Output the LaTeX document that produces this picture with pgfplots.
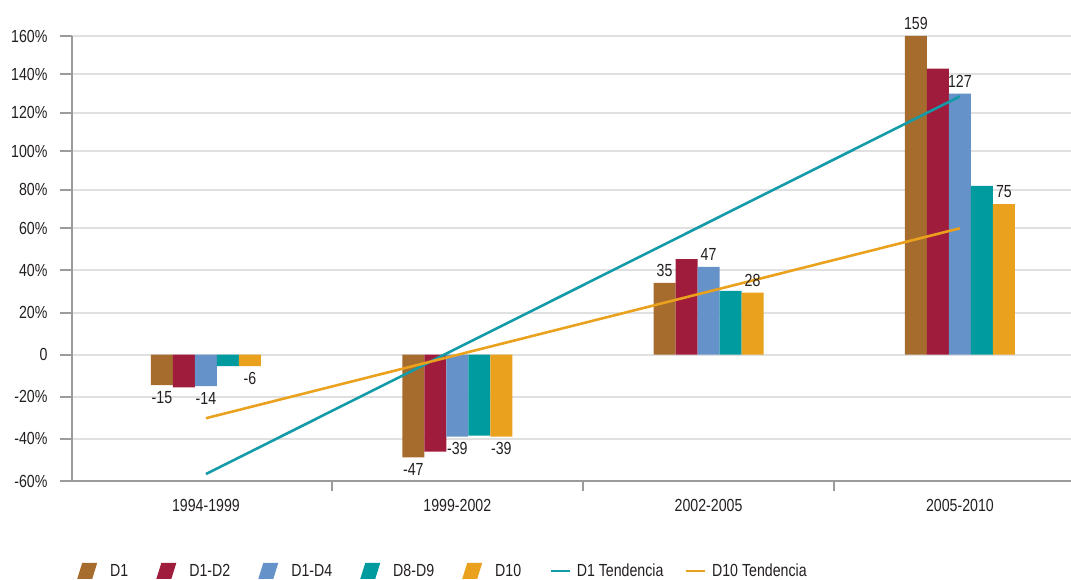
\documentclass[border=0pt]{standalone}
\usepackage{fontspec}
\setmainfont{Liberation Sans}[FakeStretch=0.81]
\usepackage{pgfplots}
\pgfplotsset{compat=1.18}
\definecolor{cD1}{RGB}{166,108,46}
\definecolor{cD12}{RGB}{160,28,60}
\definecolor{cD14}{RGB}{101,146,200}
\definecolor{cD89}{RGB}{0,155,159}
\definecolor{cD10}{RGB}{234,162,30}
\definecolor{cT1}{RGB}{20,155,168}
\definecolor{gridc}{RGB}{224,224,224}
\definecolor{axc}{RGB}{155,155,155}
\definecolor{txt}{RGB}{35,31,32}
\pgfplotsset{
  barleg/.style={legend image code/.code={%
    \fill[##1,draw=none] (0bp,-8bp) -- (15bp,-8bp) -- (20bp,8bp) -- (5bp,8bp) -- cycle;
    \path (27bp,0bp);}},
  lineleg/.style={legend image code/.code={%
    \draw[##1,line width=2.6bp] (0bp,0bp) -- (19bp,0bp);}},
  lab/.style={nodes near coords={\pgfmathprintnumber[assume math mode=true]{\pgfplotspointmeta}},
    point meta=explicit},
}
\begin{document}
\begin{tikzpicture}[x=1bp,y=1bp,font=\fontsize{17.5bp}{21bp}\selectfont]
\useasboundingbox (-72,-99) rectangle (999,481);
\begin{axis}[
  at={(0,0)}, anchor=south west,
  scale only axis, width=999bp, height=445bp,
  clip=false,
  y coord trafo/.code={\pgfmathparse{(#1<60) ? (#1) : (60+(#1-60)*0.913)}},
  y coord inv trafo/.code={\pgfmathparse{(#1<60) ? (#1) : (60+(#1-60)/0.913)}},
  ybar=0pt, bar width=22bp,
  xmin=-0.533, xmax=3.442, ymin=-60, ymax=160,
  axis x line*=bottom, axis y line*=left,
  axis line style={axc, line width=2.5bp},
  ytick={-60,-40,...,160},
  yticklabels={-60\%,-40\%,-20\%,0,20\%,40\%,60\%,80\%,100\%,120\%,140\%,160\%},
  ymajorgrids,
  major grid style={gridc, line width=2bp},
  tick align=outside,
  major tick length=12bp,
  major y tick style={axc, line width=2bp},
  xtick={0,1,2,3},
  xticklabels={1994-1999,1999-2002,2002-2005,2005-2010},
  major x tick style={draw=none},
  minor xtick={0.5,1.5,2.5},
  minor tick length=10bp,
  minor x tick style={axc, line width=2bp},
  tick label style={text=txt},
  yticklabel style={xshift=-9bp},
  xticklabel style={yshift=-3bp},
  every node near coord/.append style={text=txt, inner ysep=6bp},
  legend style={draw=none, fill=none, at={(0,0)}, anchor=west,
    xshift=5bp, yshift=-90bp, legend columns=-1, inner sep=0pt,
    nodes={inner xsep=0pt, inner ysep=1bp, text=txt},
    /tikz/every odd column/.append style={column sep=6bp},
    /tikz/every even column/.append style={column sep=28bp}},
]
\addplot[fill=cD1, draw=none, barleg, lab]
  coordinates {(0,-14.5) [-15] (1,-48.8) [-47] (2,34.1) [35] (3,160) [159]};
\addplot[fill=cD12, draw=none, barleg]
  coordinates {(0,-15.5) (1,-46.1) (2,45.4) (3,143)};
\addplot[fill=cD14, draw=none, barleg, lab]
  coordinates {(0,-15) [-14] (1,-38.9) [-39] (2,41.7) [47] (3,130) [127]};
\addplot[fill=cD89, draw=none, barleg]
  coordinates {(0,-5.5) (1,-38.5) (2,30.3) (3,82)};
\addplot[fill=cD10, draw=none, barleg, lab]
  coordinates {(0,-5.5) [-6] (1,-38.9) [-39] (2,29.4) [28] (3,72.6) [75]};
\addplot[sharp plot, cT1, line width=2.6bp, mark=none, lineleg]
  coordinates {(0,-56.7) (3,128.6)};
\addplot[sharp plot, cD10, line width=2.6bp, mark=none, lineleg]
  coordinates {(0,-30.2) (3,60)};
\legend{D1,D1-D2,D1-D4,D8-D9,D10,D1 Tendencia\kern-7bp,D10 Tendencia}
\end{axis}
\end{tikzpicture}
\end{document}
